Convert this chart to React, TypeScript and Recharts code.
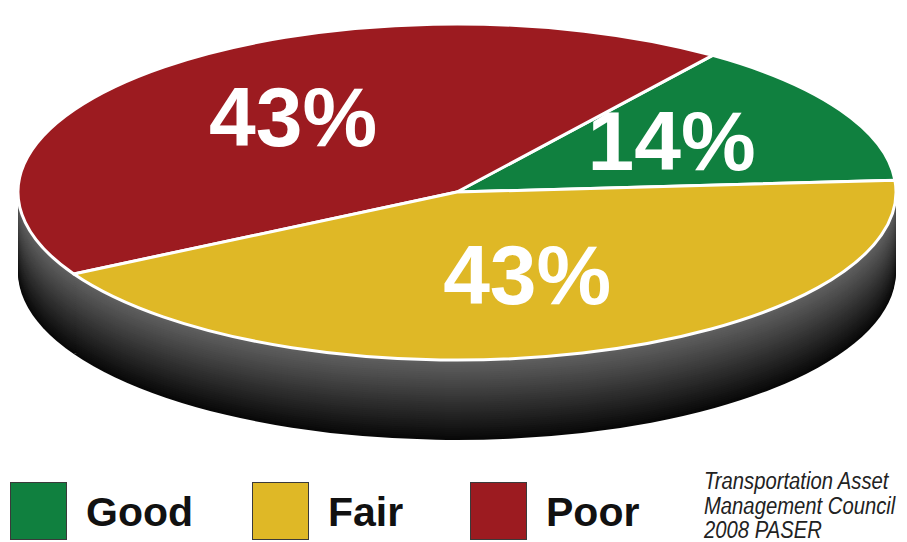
import React from "react";
import { PieChart, Pie } from "recharts";

// slices, counter-clockwise from the right edge
const categories = ["Good", "Poor", "Fair"];
const shares = [14, 43, 43];
const colors = ["#10803f", "#9c1b20", "#dfb826"];
const legendOrder = ["Good", "Fair", "Poor"];
const source = ["Transportation Asset", "Management Council", "2008 PASER"];

const data = categories.map((name, i) => ({ name, value: shares[i], fill: colors[i] }));
const colorOf = (name: string) => colors[categories.indexOf(name)];

const CX = 457;
const CY = 192;
const RX = 439;
const FLAT = 168 / 439; // ellipse squash
const DEPTH = 80;
const START = 4;

function pt(cx: number, cy: number, rx: number, ry: number, deg: number) {
  const a = (deg * Math.PI) / 180;
  return [cx + rx * Math.cos(a), cy - ry * Math.sin(a)];
}

function sectorPath(cx: number, cy: number, rx: number, ry: number, a0: number, a1: number) {
  const [x0, y0] = pt(cx, cy, rx, ry, a0);
  const [x1, y1] = pt(cx, cy, rx, ry, a1);
  const large = Math.abs(a1 - a0) > 180 ? 1 : 0;
  return `M${cx},${cy} L${x0},${y0} A${rx},${ry} 0 ${large} 0 ${x1},${y1} Z`;
}

function TopSlice(props: any) {
  const { cx, cy, outerRadius, startAngle, endAngle, fill } = props;
  return (
    <path
      d={sectorPath(cx, cy, outerRadius, outerRadius * FLAT, startAngle, endAngle)}
      fill={fill}
      stroke="#ffffff"
      strokeWidth={3}
      strokeLinejoin="round"
    />
  );
}

// side wall: stacked copies of the slice, darkest at the bottom
function SideSlice(props: any) {
  const { cx, cy, outerRadius, startAngle, endAngle } = props;
  const steps = 40;
  const layers = [];
  for (let i = steps; i >= 1; i--) {
    const off = (DEPTH * i) / steps;
    const t = i / steps;
    const g = Math.round(0x62 - (0x62 - 0x08) * t);
    layers.push(
      <path
        key={i}
        d={sectorPath(cx, cy + off, outerRadius, outerRadius * FLAT, startAngle, endAngle)}
        fill={`rgb(${g},${g},${g})`}
      />
    );
  }
  return <g>{layers}</g>;
}

function renderLabel(props: any) {
  const { cx, cy, outerRadius, midAngle, value } = props;
  const [x, y] = pt(cx, cy, outerRadius * 0.56, outerRadius * FLAT * 0.55, midAngle);
  return (
    <text
      x={x}
      y={y - 6}
      textAnchor="middle"
      dominantBaseline="central"
      fill="#ffffff"
      fontSize={84}
      fontWeight="bold"
      fontFamily="'Liberation Sans', Arial, sans-serif"
    >
      {value}%
    </text>
  );
}

export default function App() {
  return (
    <div style={{ position: "relative", width: 907, height: 542, background: "#fff", overflow: "hidden" }}>
      <style>{`body{margin:0}`}</style>
      <PieChart width={907} height={470} margin={{ top: 0, right: 0, bottom: 0, left: 0 }}>
        <Pie
          data={data}
          dataKey="value"
          cx={CX}
          cy={CY}
          outerRadius={RX}
          startAngle={START}
          endAngle={START + 360}
          stroke="none"
          isAnimationActive={false}
          shape={SideSlice}
          activeShape={SideSlice}
          inactiveShape={SideSlice}
        />
        <Pie
          data={data}
          dataKey="value"
          cx={CX}
          cy={CY}
          outerRadius={RX}
          startAngle={START}
          endAngle={START + 360}
          isAnimationActive={false}
          shape={TopSlice}
          activeShape={TopSlice}
          inactiveShape={TopSlice}
          label={renderLabel}
          labelLine={false}
        />
      </PieChart>
      {legendOrder.map((name, i) => (
        <div key={name} style={{ position: "absolute", left: [10, 252, 470][i], top: 482 }}>
          <div
            style={{
              position: "absolute",
              left: 0,
              top: 0,
              width: 55,
              height: 56,
              background: colorOf(name),
              border: "1.5px solid #3a3a3a",
            }}
          />
          <div
            style={{
              position: "absolute",
              left: 76,
              top: 2,
              fontFamily: "'Liberation Sans', Arial, sans-serif",
              fontWeight: "bold",
              fontSize: 41,
              lineHeight: "56px",
              color: "#111",
              whiteSpace: "nowrap",
            }}
          >
            {name}
          </div>
        </div>
      ))}
      <div
        style={{
          position: "absolute",
          left: 704,
          top: 469,
          fontFamily: "'Liberation Sans', Arial, sans-serif",
          fontStyle: "italic",
          fontSize: 23,
          lineHeight: "24.5px",
          color: "#222",
          whiteSpace: "nowrap",
          transform: "scaleX(0.88)",
          transformOrigin: "left top",
        }}
      >
        {source.map((s) => (
          <div key={s}>{s}</div>
        ))}
      </div>
    </div>
  );
}
